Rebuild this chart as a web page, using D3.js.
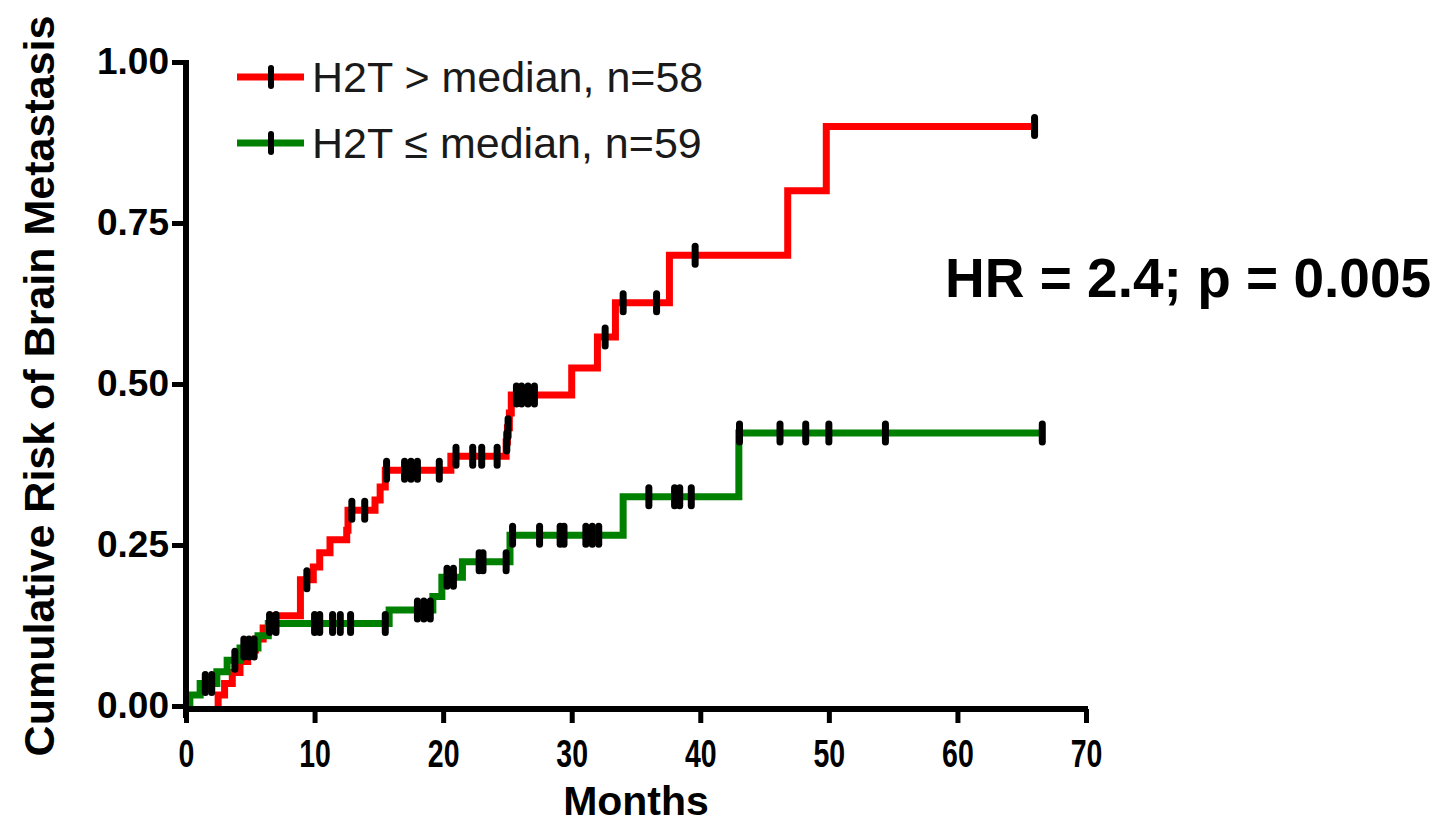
<!DOCTYPE html>
<html>
<head>
<meta charset="utf-8">
<script src="https://cdn.jsdelivr.net/npm/d3@7"></script>
<style>
  body { margin: 0; background: #fff; }
  svg { display: block; }
</style>
</head>
<body>
<svg id="km" width="1446" height="825"></svg>
<script>
// step data: time (months) of each event and the cumulative risk after it
const redTimes  = [2.5, 3.0, 3.6, 4.2, 4.8, 5.4, 6.0, 6.6, 8.9, 9.9, 10.4, 11.2, 12.5, 12.6, 14.7, 15.1, 15.5, 20.6, 24.9, 25.0, 25.15, 25.3, 30.0, 32.0, 33.4, 37.6, 46.8, 49.8];
const redValues = [0.017, 0.035, 0.052, 0.069, 0.087, 0.104, 0.121, 0.14, 0.196, 0.216, 0.238, 0.258, 0.273, 0.304, 0.32, 0.34, 0.366, 0.388, 0.41, 0.432, 0.455, 0.483, 0.525, 0.573, 0.626, 0.70, 0.80, 0.90];
const redCensor = [9.4, 12.9, 13.9, 15.6, 17.0, 17.5, 18.0, 19.7, 21.0, 22.3, 23.0, 24.2, 24.95, 25.05, 25.7, 26.1, 26.6, 27.1, 32.6, 34.0, 36.6, 39.6, 66.0];

const greenTimes  = [0.3, 1.1, 2.4, 3.2, 4.2, 5.6, 6.4, 15.8, 19.2, 19.9, 21.5, 25.2, 34.0, 43.0];
const greenValues = [0.017, 0.035, 0.053, 0.071, 0.090, 0.109, 0.128, 0.149, 0.17, 0.2, 0.224, 0.265, 0.325, 0.424];
const greenCensor = [1.5, 2.0, 3.8, 4.5, 4.9, 5.3, 6.5, 7.0, 10.0, 10.4, 11.4, 12.0, 12.8, 15.5, 18.0, 18.5, 19.0, 20.3, 20.8, 22.8, 23.1, 24.9, 25.4, 27.5, 29.1, 29.4, 31.1, 31.6, 32.1, 36.0, 38.0, 38.4, 39.3, 43.05, 46.2, 48.2, 50.0, 54.4, 66.6];

const xTicks = [0, 10, 20, 30, 40, 50, 60, 70];
const yTicks = [0, 0.25, 0.5, 0.75, 1];
const seriesNames  = ["H2T > median, n=58", "H2T \u2264 median, n=59"];
const seriesColors = ["#ff0000", "#008000"];
const statText = "HR = 2.4; p = 0.005";

const svg = d3.select("#km");

const x = d3.scaleLinear().domain([0, 70]).range([186, 1086]);
const y = d3.scaleLinear().domain([0, 1]).range([706, 62]);

// value of a step curve at time t
function valueAt(times, values, t) {
  let v = 0;
  for (let i = 0; i < times.length; i++) {
    if (times[i] <= t) v = values[i];
  }
  return v;
}

// curve starts at the first event, runs to the last censored time
function stepPoints(times, values, censor) {
  const pts = [[times[0], 0]];
  times.forEach((t, i) => pts.push([t, values[i]]));
  pts.push([d3.max(censor), values[values.length - 1]]);
  return pts;
}

const line = d3.line()
  .x(d => x(d[0]))
  .y(d => y(d[1]))
  .curve(d3.curveStepAfter);

const series = [
  {times: redTimes, values: redValues, censor: redCensor, color: seriesColors[0]},
  {times: greenTimes, values: greenValues, censor: greenCensor, color: seriesColors[1]}
];

series.forEach(s => {
  svg.append("path")
    .attr("d", line(stepPoints(s.times, s.values, s.censor)))
    .attr("fill", "none")
    .attr("stroke", s.color)
    .attr("stroke-width", 7)
    .attr("stroke-linejoin", "miter");
});

series.forEach(s => {
  svg.append("g")
    .selectAll("line")
    .data(s.censor)
    .join("line")
    .attr("x1", d => x(d))
    .attr("x2", d => x(d))
    .attr("y1", d => y(valueAt(s.times, s.values, d)) - 9)
    .attr("y2", d => y(valueAt(s.times, s.values, d)) + 9)
    .attr("stroke", "#000")
    .attr("stroke-width", 7)
    .attr("stroke-linecap", "round");
});

// axes
const yAxis = d3.axisLeft(y)
  .tickValues(yTicks)
  .tickFormat(d3.format(".2f"))
  .tickSize(14)
  .tickSizeOuter(0)
  .tickPadding(3);

const yg = svg.append("g")
  .attr("transform", `translate(${x(0)},0)`)
  .call(yAxis);
yg.select(".domain").remove();
yg.selectAll(".tick line").attr("stroke", "#000").attr("stroke-width", 5);
yg.selectAll(".tick text")
  .attr("font-family", "'Liberation Sans', Arial, sans-serif")
  .attr("font-weight", "bold")
  .attr("font-size", 37)
  .attr("fill", "#000");

const xAxis = d3.axisBottom(x)
  .tickValues(xTicks)
  .tickFormat(d3.format("d"))
  .tickSize(14)
  .tickSizeOuter(0)
  .tickPadding(17);

const xg = svg.append("g")
  .attr("transform", `translate(0,${y(0) + 3})`)
  .call(xAxis);
xg.select(".domain").remove();
xg.selectAll(".tick line").attr("stroke", "#000").attr("stroke-width", 5);
xg.selectAll(".tick text")
  .attr("font-family", "'Liberation Sans', Arial, sans-serif")
  .attr("font-weight", "bold")
  .attr("font-size", 38)
  .attr("transform", "scale(0.75,1)")
  .attr("fill", "#000");

svg.append("line")
  .attr("x1", x(0)).attr("x2", x(0))
  .attr("y1", y(1) - 2).attr("y2", y(0) + 12)
  .attr("stroke", "#000").attr("stroke-width", 6);

svg.append("line")
  .attr("x1", x(0) - 3).attr("x2", x(70) + 2)
  .attr("y1", y(0) + 3).attr("y2", y(0) + 3)
  .attr("stroke", "#000").attr("stroke-width", 6);

// axis titles
svg.append("text")
  .attr("transform", `translate(54,${386}) rotate(-90)`)
  .attr("text-anchor", "middle")
  .attr("font-family", "'Liberation Sans', Arial, sans-serif")
  .attr("font-weight", "bold")
  .attr("font-size", 43)
  .attr("fill", "#000")
  .text("Cumulative Risk of Brain Metastasis");

svg.append("text")
  .attr("x", 636)
  .attr("y", 815)
  .attr("text-anchor", "middle")
  .attr("font-family", "'Liberation Sans', Arial, sans-serif")
  .attr("font-weight", "bold")
  .attr("font-size", 41)
  .attr("fill", "#000")
  .text("Months");

// legend
const legend = svg.append("g");
seriesNames.forEach((name, i) => {
  const ly = 77 + i * 66;
  legend.append("line")
    .attr("x1", 237).attr("x2", 304)
    .attr("y1", ly).attr("y2", ly)
    .attr("stroke", seriesColors[i])
    .attr("stroke-width", 7);
  legend.append("line")
    .attr("x1", 271).attr("x2", 271)
    .attr("y1", ly - 9).attr("y2", ly + 9)
    .attr("stroke", "#000")
    .attr("stroke-width", 6)
    .attr("stroke-linecap", "round");
  legend.append("text")
    .attr("x", 312)
    .attr("y", ly + 15)
    .attr("font-family", "'Liberation Sans', Arial, sans-serif")
    .attr("font-size", 43)
    .attr("fill", "#1a1a1a")
    .text(name);
});

svg.append("text")
  .attr("x", 945)
  .attr("y", 297)
  .attr("font-family", "'Liberation Sans', Arial, sans-serif")
  .attr("font-weight", "bold")
  .attr("font-size", 55)
  .attr("fill", "#000")
  .text(statText);
</script>
</body>
</html>
